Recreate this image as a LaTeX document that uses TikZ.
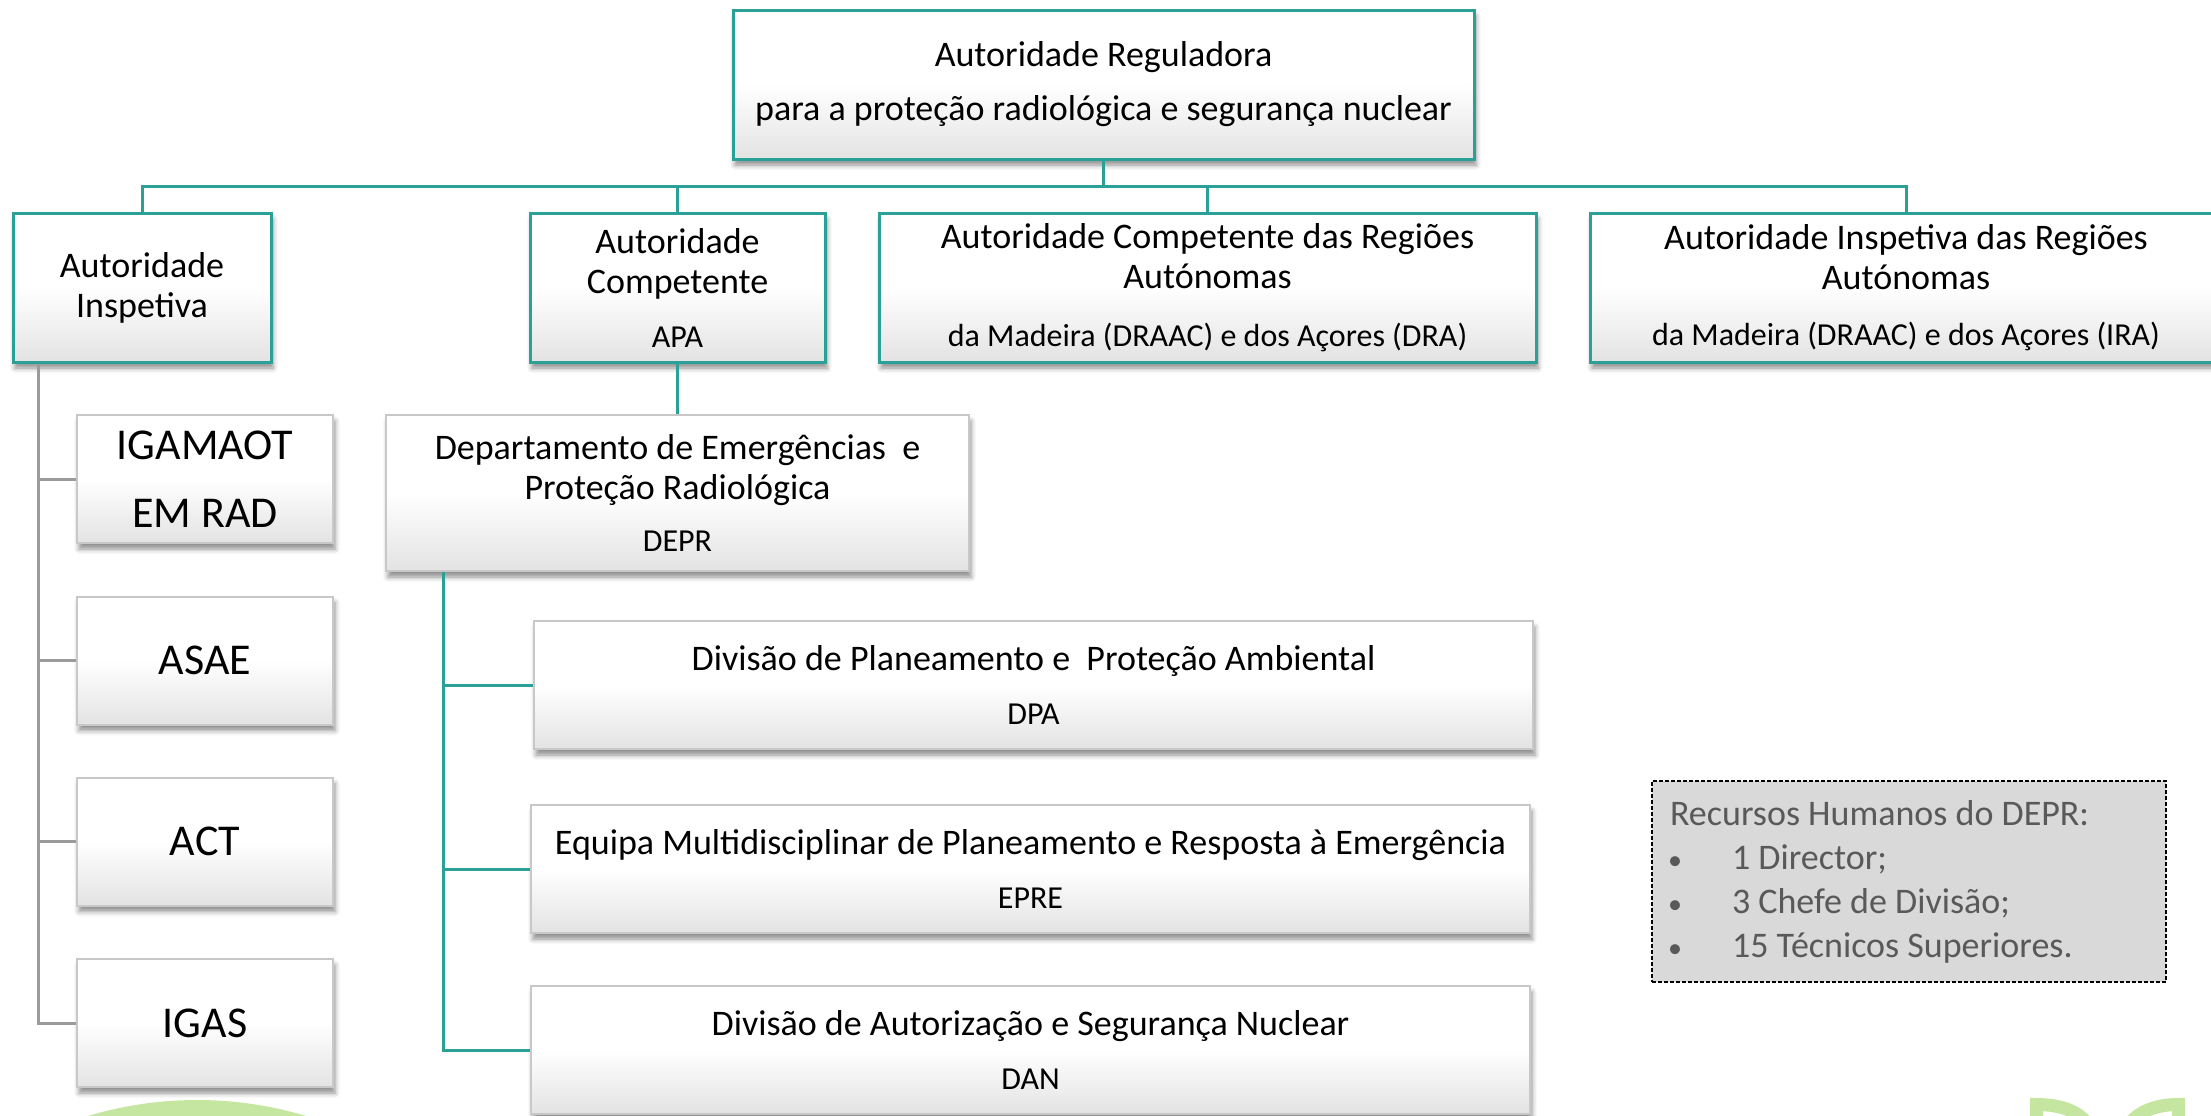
\documentclass[tikz,border=0pt]{standalone}
\usepackage{fontspec}
\setmainfont{Carlito}
\usetikzlibrary{shadows.blur}

\definecolor{tealline}{RGB}{43,160,150}
\definecolor{grayline}{RGB}{155,155,155}
\definecolor{boxedge}{RGB}{200,200,200}
\definecolor{notefill}{RGB}{217,217,217}
\definecolor{notetext}{RGB}{89,89,89}
\definecolor{leafgreen}{RGB}{197,230,160}

\newcommand{\subtxt}{\fontsize{16}{20}\selectfont}
\newcommand{\hrbullet}{\hspace*{-1pt}\makebox[32pt][l]{\fontsize{14}{14}\selectfont •}}

\tikzset{every picture/.style={line width=0.75pt},
    authbox/.style={rectangle, draw=tealline, line width=1.5pt, top color=white, bottom color=black!11, middle color=white,
        blur shadow={shadow xshift=1pt, shadow yshift=-3pt, shadow blur radius=2.5pt, shadow opacity=45},
        inner sep=0pt, align=center, font=\fontsize{18}{20}\selectfont},
    unitbox/.style={authbox, draw=boxedge, line width=1pt},
    tealconn/.style={draw=tealline, line width=1.5pt},
    grayconn/.style={draw=grayline, line width=1.5pt},
    notebox/.style={rectangle, draw=black, fill=notefill, line width=0.6pt, dash pattern={on 2pt off 1pt},
        text=notetext, align=flush left, inner xsep=9pt, font=\fontsize{18}{22}\selectfont}
}

\begin{document}
\begin{tikzpicture}[x=0.5pt,y=0.5pt,yscale=-1,xscale=1]
    \path[use as bounding box] (0,0) rectangle (2211,1115);
    \clip (0,0) rectangle (2211,1115);

    %Shape: Circle (logo, bottom left)
    \fill[leafgreen] (197,1478) circle [radius=378];
    %Shape: Logo strokes (bottom right)
    \draw[leafgreen, line width=6.5pt] (2036.5,1125) -- (2036.5,1104.5) .. controls (2062,1104.5) and (2080,1112) .. (2088,1125);
    \draw[leafgreen, line width=6.5pt] (2128,1125) .. controls (2140,1110) and (2158,1104.5) .. (2178.5,1104.5) -- (2178.5,1125);

    %Shape: Rectangle (top)
    \node[authbox, minimum width=370.5pt, minimum height=74.5pt, font=\fontsize{18}{27}\selectfont] (reg) at (1103.5,84.5)
        {Autoridade Reguladora\\para a proteção radiológica e segurança nuclear};

    %Shapes: Rectangles (second row)
    \node[authbox, minimum width=129pt, minimum height=74.5pt] (ia) at (142,287.5) {Autoridade\\Inspetiva};
    \node[authbox, minimum width=147.5pt, minimum height=74.5pt] (ac) at (677.5,287.5) {Autoridade\\Competente\\[7pt]\subtxt APA};
    \node[authbox, minimum width=328.5pt, minimum height=74.5pt] (acr) at (1207.5,287.5)
        {Autoridade Competente das Regiões\\Autónomas\\[9pt]\subtxt da Madeira (DRAAC) e dos Açores (DRA)};
    \node[authbox, minimum width=316pt, minimum height=74.5pt] (air) at (1906,287.5)
        {Autoridade Inspetiva das Regiões\\Autónomas\\[8pt]\subtxt da Madeira (DRAAC) e dos Açores (IRA)};

    %Shapes: Rectangles (inspection bodies)
    \node[unitbox, minimum width=128pt, minimum height=64pt, font=\fontsize{22}{34}\selectfont] (igamaot) at (205,479) {IGAMAOT\\EM RAD};
    \node[unitbox, minimum width=128pt, minimum height=64pt, font=\fontsize{22}{26}\selectfont] (asae) at (205,660.5) {ASAE};
    \node[unitbox, minimum width=128pt, minimum height=64pt, font=\fontsize{22}{26}\selectfont] (act) at (205,841.5) {ACT};
    \node[unitbox, minimum width=128pt, minimum height=64pt, font=\fontsize{22}{26}\selectfont] (igas) at (205,1023) {IGAS};

    %Shapes: Rectangles (APA)
    \node[unitbox, minimum width=291.5pt, minimum height=78pt] (depr) at (677.5,493)
        {Departamento de Emergências \ e\\Proteção Radiológica\\[6pt]\subtxt DEPR};
    \node[unitbox, minimum width=499.5pt, minimum height=64pt] (dpa) at (1033.5,685)
        {Divisão de Planeamento e \ Proteção Ambiental\\[7pt]\subtxt DPA};
    \node[unitbox, minimum width=499.5pt, minimum height=64pt] (epre) at (1030.5,869)
        {Equipa Multidisciplinar de Planeamento e Resposta à Emergência\\[7pt]\subtxt EPRE};
    \node[unitbox, minimum width=499.5pt, minimum height=64pt] (dan) at (1030.5,1050)
        {Divisão de Autorização e Segurança Nuclear\\[7pt]\subtxt DAN};

    %Shape: Rectangle (note)
    \node[notebox, minimum width=257pt, minimum height=100.5pt, text width=239pt] (hr) at (1909,881.5)
        {Recursos Humanos do DEPR:\\
        \hrbullet 1 Director;\\
        \hrbullet 3 Chefe de Divisão;\\
        \hrbullet 15 Técnicos Superiores.};

    %Straight Lines (bus)
    \coordinate (bus) at (1103.5,186);
    \draw[tealconn] (reg.south) -- (bus);
    \draw[tealconn] (ia.north) |- (air.north |- bus) -- (air.north);
    \foreach \n in {ac,acr} \draw[tealconn] (\n.north) -- (\n.north |- bus);
    \draw[tealconn] (ac.south) -- (depr.north);

    %Straight Lines (inspection bodies)
    \coordinate (iaroot) at ([xshift=13.25pt]ia.south west);
    \draw[grayconn] (iaroot) |- (igas.west);
    \foreach \n in {igamaot,asae,act} \draw[grayconn] (iaroot |- \n.west) -- (\n.west);

    %Straight Lines (DEPR)
    \coordinate (deproot) at ([xshift=29.25pt]depr.south west);
    \draw[tealconn] (deproot) |- (dan.west);
    \foreach \n in {dpa,epre} \draw[tealconn] (deproot |- \n.west) -- (\n.west);

\end{tikzpicture}
\end{document}
